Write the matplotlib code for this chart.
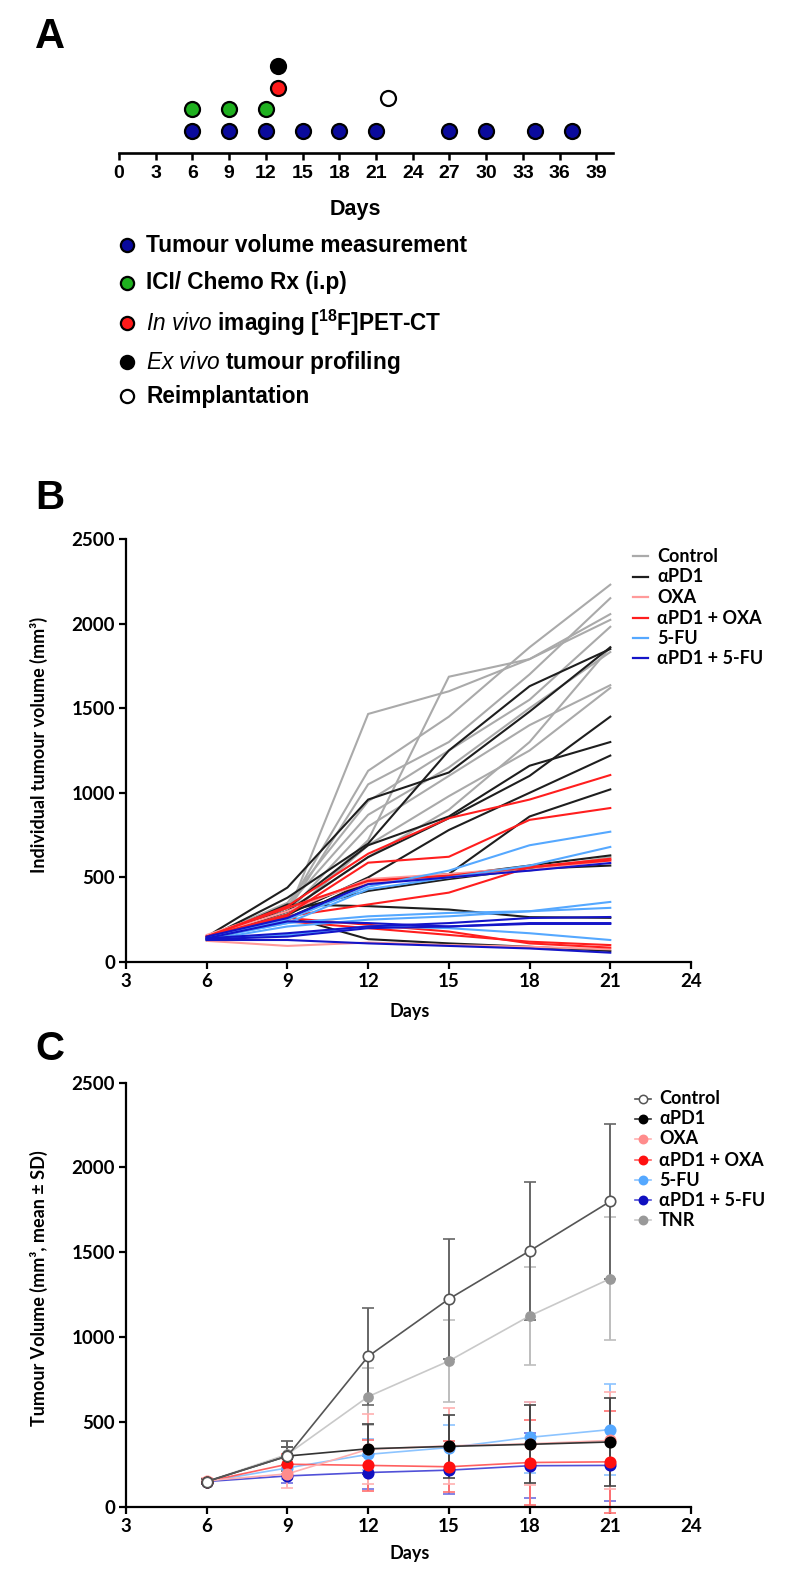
import matplotlib
matplotlib.use('Agg')
import matplotlib.pyplot as plt
from matplotlib.lines import Line2D
from matplotlib import font_manager as fm

# ---------------- data ----------------
# Panel A timeline
measure_days = [6, 9, 12, 15, 18, 21, 27, 30, 34, 37]
treat_days = [6, 9, 12]
imaging_days = [13]
exvivo_days = [13]
reimplant_days = [22]
timeline_ticks = list(range(0, 40, 3))

# Panel B individual tumour volumes (mm3)
days_B = [6, 9, 12, 15, 18, 21]
control_B = [
    [140, 280, 1466, 1600, 1790, 2056],
    [135, 260, 720, 1686, 1790, 2022],
    [140, 320, 1130, 1450, 1860, 2230],
    [130, 300, 1050, 1300, 1700, 2150],
    [145, 350, 950, 1250, 1550, 1981],
    [140, 330, 870, 1150, 1500, 1832],
    [150, 290, 800, 1100, 1400, 1636],
    [135, 270, 690, 980, 1250, 1620],
    [145, 300, 620, 900, 1300, 1860],
    [150, 300, 480, 520, 540, 620],
]
apd1_B = [
    [150, 440, 960, 1120, 1480, 1860],
    [140, 380, 700, 1250, 1630, 1850],
    [130, 320, 690, 860, 1160, 1300],
    [140, 300, 620, 850, 1100, 1450],
    [135, 280, 500, 780, 1000, 1220],
    [140, 260, 470, 520, 860, 1020],
    [130, 250, 480, 510, 570, 630],
    [145, 300, 420, 490, 550, 570],
    [135, 340, 330, 310, 265, 261],
    [140, 270, 135, 110, 90, 65],
]
oxa_B = [
    [125, 95, 115, 100, 90, 75],
    [150, 300, 490, 520, 560, 610],
    [160, 320, 470, 500, 545, 600],
]
apd1oxa_B = [
    [150, 330, 640, 850, 960, 1105],
    [150, 280, 587, 622, 840, 910],
    [150, 270, 340, 410, 560, 600],
    [150, 240, 200, 160, 120, 100],
    [140, 260, 220, 180, 110, 85],
    [150, 320, 480, 510, 560, 610],
]
fu_B = [
    [145, 250, 445, 540, 690, 770],
    [140, 230, 430, 500, 570, 680],
    [140, 230, 270, 290, 300, 355],
    [130, 210, 250, 270, 300, 320],
    [135, 160, 210, 200, 170, 130],
]
apd1fu_B = [
    [140, 170, 210, 230, 260, 266],
    [135, 150, 200, 210, 225, 225],
    [130, 130, 110, 95, 80, 55],
    [140, 240, 230, 210, 230, 230],
    [150, 260, 460, 500, 540, 585],
]

# Panel C mean +- SD
days_C = [6, 9, 12, 15, 18, 21]
ctrl_mean = [150, 300, 887, 1225, 1508, 1800]
ctrl_sd = [15, 90, 284, 355, 406, 458]
apd1_mean = [150, 300, 343, 357, 369, 383]
apd1_sd = [15, 55, 148, 185, 230, 260]
oxa_mean = [155, 195, 340, 360, 372, 392]
oxa_sd = [15, 85, 205, 225, 245, 285]
apd1oxa_mean = [150, 252, 245, 237, 262, 266]
apd1oxa_sd = [15, 60, 150, 150, 250, 300]
fu_mean = [150, 230, 310, 350, 410, 456]
fu_sd = [15, 65, 92, 130, 210, 268]
apd1fu_mean = [150, 183, 203, 217, 243, 245]
apd1fu_sd = [15, 40, 95, 140, 190, 210]
tnr_mean = [150, 310, 650, 860, 1125, 1345]
tnr_sd = [15, 80, 170, 240, 290, 360]

xticks_BC = [3, 6, 9, 12, 15, 18, 21, 24]
yticks_BC = [0, 500, 1000, 1500, 2000, 2500]

# ---------------- fonts ----------------
def pick(*names):
    for n in names:
        try:
            fm.findfont(fm.FontProperties(family=n), fallback_to_default=False)
            return n
        except Exception:
            pass
    return 'DejaVu Sans'

ARIAL = pick('Liberation Sans', 'Arimo', 'DejaVu Sans')
CAL = pick('Lato', 'Open Sans', 'DejaVu Sans')

plt.rcParams['font.family'] = [ARIAL, 'DejaVu Sans']
plt.rcParams['mathtext.fontset'] = 'custom'
plt.rcParams['mathtext.rm'] = ARIAL + ':bold'
plt.rcParams['mathtext.bf'] = ARIAL + ':bold'
plt.rcParams['mathtext.it'] = ARIAL + ':italic'

W, H = 789, 1581
fig = plt.figure(figsize=(W / 100, H / 100), dpi=100)

def fx(px):
    return px / W

def fy(py):
    return 1 - py / H

# ---------------- Panel A ----------------
BLUE_A = '#0a0a9c'
GREEN_A = '#1fb01f'
RED_A = '#ff1a1a'

axA = fig.add_axes([fx(119), fy(153), (613 - 119) / W, (153 - 50) / H])
axA.set_xlim(0, (613 - 119) / 12.24)
axA.set_ylim(-0.035, -0.035 + 103 / 21.55)
for s in ['left', 'right', 'top']:
    axA.spines[s].set_visible(False)
axA.spines['bottom'].set_linewidth(1.9)
axA.set_yticks([])
axA.set_xticks(timeline_ticks)
axA.set_xticklabels([str(t) for t in timeline_ticks], fontsize=14,
                    fontweight='bold')
axA.tick_params(axis='x', length=5, width=1.8, pad=4, direction='out')
ms_A = 10.8
mew_A = 1.6
axA.plot(measure_days, [1] * len(measure_days), 'o', ms=ms_A, mfc=BLUE_A,
         mec='black', mew=mew_A, clip_on=False)
axA.plot(treat_days, [2] * len(treat_days), 'o', ms=ms_A, mfc=GREEN_A,
         mec='black', mew=mew_A, clip_on=False)
axA.plot(imaging_days, [3] * len(imaging_days), 'o', ms=ms_A, mfc=RED_A,
         mec='black', mew=mew_A, clip_on=False)
axA.plot(exvivo_days, [4] * len(exvivo_days), 'o', ms=ms_A, mfc='black',
         mec='black', mew=mew_A, clip_on=False)
axA.plot(reimplant_days, [2.5] * len(reimplant_days), 'o', ms=ms_A, mfc='white',
         mec='black', mew=mew_A, clip_on=False)

fig.text(fx(50), fy(37), 'A', fontsize=30, fontweight='bold', ha='center',
         va='center', family=[ARIAL])
fig.text(fx(355), fy(210), 'Days', fontsize=15.5, fontweight='bold',
         ha='center', va='center')

legA = [
    (BLUE_A, 'Tumour volume measurement'),
    (GREEN_A, 'ICI/ Chemo Rx (i.p)'),
    (RED_A, r'$\mathit{In\ vivo}$ imaging [$^{18}$F]PET-CT'),
    ('black', r'$\mathit{Ex\ vivo}$ tumour profiling'),
    ('white', 'Reimplantation'),
]
legA_y = [245, 283, 323, 362, 396]
for (c, lab), yy in zip(legA, legA_y):
    fig.add_artist(Line2D([fx(126.5)], [fy(yy)], marker='o', ms=9.5, mfc=c,
                          mec='black', mew=1.6, transform=fig.transFigure))
    fig.text(fx(146), fy(yy), lab, fontsize=16.3, fontweight='bold',
             ha='left', va='center')

# ---------------- Panel B ----------------
C_CTRL = '#aaaaaa'
C_APD1 = '#1e1e1e'
C_OXA = '#ff9a9a'
C_APD1OXA = '#ff1e1e'
C_FU = '#55a8ff'
C_APD1FU = '#1414c8'

def style_axes(ax):
    ax.set_xlim(3, 24)
    ax.set_ylim(0, 2500)
    for s in ['right', 'top']:
        ax.spines[s].set_visible(False)
    for s in ['left', 'bottom']:
        ax.spines[s].set_linewidth(1.6)
    ax.set_xticks(xticks_BC)
    ax.set_yticks(yticks_BC)
    ax.set_xticklabels([str(t) for t in xticks_BC], fontsize=13.5,
                       fontweight='bold', family=[CAL, 'DejaVu Sans'])
    ax.set_yticklabels([str(t) for t in yticks_BC], fontsize=13.5,
                       fontweight='bold', family=[CAL, 'DejaVu Sans'])
    ax.tick_params(length=5, width=1.6, pad=3, direction='out')

axB = fig.add_axes([fx(126), fy(962), 565 / W, 423 / H])
style_axes(axB)
groupsB = [
    (control_B, C_CTRL, 'Control'),
    (apd1_B, C_APD1, 'αPD1'),
    (oxa_B, C_OXA, 'OXA'),
    (apd1oxa_B, C_APD1OXA, 'αPD1 + OXA'),
    (fu_B, C_FU, '5-FU'),
    (apd1fu_B, C_APD1FU, 'αPD1 + 5-FU'),
]
for series, col, lab in groupsB:
    for vals in series:
        axB.plot(days_B, vals, '-', color=col, lw=1.5, solid_joinstyle='miter')

fig.text(fx(50), fy(498), 'B', fontsize=29, fontweight='bold', ha='center',
         va='center', family=[ARIAL])
fig.text(fx(410), fy(1011), 'Days', fontsize=13, fontweight='bold',
         ha='center', va='center', family=[CAL, 'DejaVu Sans'])
fig.text(fx(39), fy(745), 'Individual tumour volume (mm³)', fontsize=13,
         fontweight='bold', ha='center', va='center', rotation=90,
         family=[CAL, 'DejaVu Sans'])

legB_y = [556, 577, 597, 618, 638, 658]
for (series, col, lab), yy in zip(groupsB, legB_y):
    fig.add_artist(Line2D([fx(633), fx(648)], [fy(yy), fy(yy)], color=col,
                          lw=1.6, transform=fig.transFigure))
    fig.text(fx(657), fy(yy), lab, fontsize=13, fontweight='bold',
             ha='left', va='center', family=[CAL, 'DejaVu Sans'])

# ---------------- Panel C ----------------
axC = fig.add_axes([fx(126), fy(1507), 565 / W, 424.5 / H])
style_axes(axC)

groupsC = [
    (tnr_mean, tnr_sd, '#c9c9c9', '#999999', '#999999', '#bdbdbd', 'TNR', 6.5),
    (apd1fu_mean, apd1fu_sd, '#5050d8', '#1010c0', '#1010c0', '#7070e0', 'αPD1 + 5-FU', 7.5),
    (fu_mean, fu_sd, '#8cc4ff', '#55a8ff', '#55a8ff', '#8cc4ff', '5-FU', 7.5),
    (apd1oxa_mean, apd1oxa_sd, '#ff6060', '#ff1010', '#ff1010', '#ff7070', 'αPD1 + OXA', 7.5),
    (oxa_mean, oxa_sd, '#ffb0b0', '#ff8c8c', '#ff8c8c', '#ffb0b0', 'OXA', 7.5),
    (apd1_mean, apd1_sd, '#333333', 'black', 'black', '#444444', 'αPD1', 7.5),
    (ctrl_mean, ctrl_sd, '#555555', 'white', '#555555', '#666666', 'Control', 7.5),
]
for mean, sd, lc, mfc, mec, ec, lab, ms in groupsC:
    axC.errorbar(days_C, mean, yerr=sd, fmt='o-', color=lc, lw=1.2, ms=ms,
                 mfc=mfc, mec=mec, mew=1.2, ecolor=ec, elinewidth=1.4,
                 capsize=4, capthick=1.4, clip_on=False)

fig.text(fx(50), fy(1049), 'C', fontsize=29, fontweight='bold', ha='center',
         va='center', family=[ARIAL])
fig.text(fx(410), fy(1554), 'Days', fontsize=13, fontweight='bold',
         ha='center', va='center', family=[CAL, 'DejaVu Sans'])
fig.text(fx(39), fy(1288), 'Tumour Volume (mm³, mean ± SD)', fontsize=13,
         fontweight='bold', ha='center', va='center', rotation=90,
         family=[CAL, 'DejaVu Sans'])

legC_order = ['Control', 'αPD1', 'OXA', 'αPD1 + OXA', '5-FU', 'αPD1 + 5-FU', 'TNR']
legC_y = [1099, 1119, 1139, 1160, 1180, 1200, 1220]
byname = {g[6]: g for g in groupsC}
for name, yy in zip(legC_order, legC_y):
    mean, sd, lc, mfc, mec, ec, lab, ms = byname[name]
    fig.add_artist(Line2D([fx(635), fx(651)], [fy(yy), fy(yy)], color=lc,
                          lw=1.2, transform=fig.transFigure))
    fig.add_artist(Line2D([fx(643)], [fy(yy)], marker='o', ms=6, mfc=mfc,
                          mec=mec, mew=1.1, transform=fig.transFigure))
    fig.text(fx(659), fy(yy), lab, fontsize=13, fontweight='bold',
             ha='left', va='center', family=[CAL, 'DejaVu Sans'])

fig.savefig('out.png', dpi=100)
